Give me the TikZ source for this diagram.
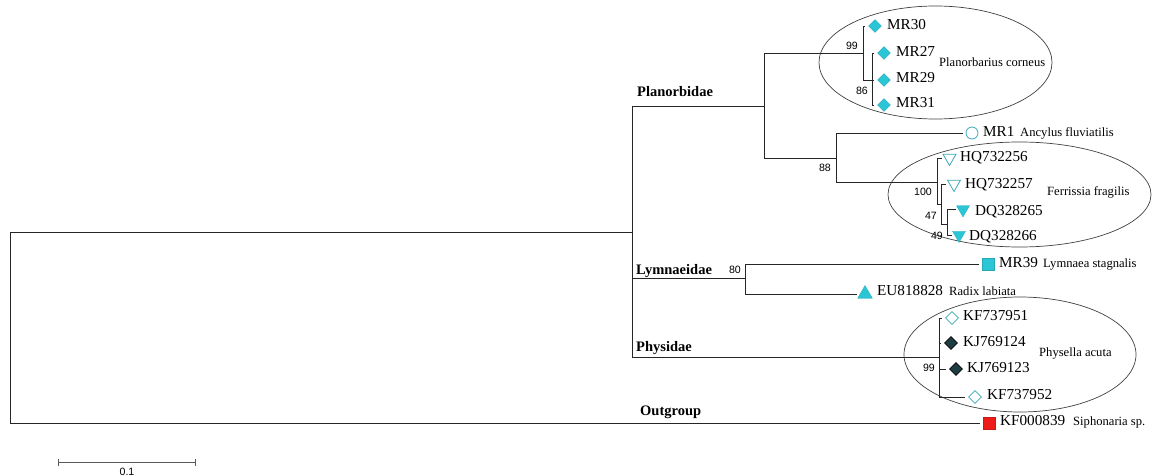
\documentclass[tikz,border=0pt]{standalone}
\usepackage{fontspec}
\setmainfont{Liberation Serif}
\newfontfamily\bootfont{Liberation Sans}
\usetikzlibrary{shapes.geometric}
\definecolor{cyanF}{HTML}{2BC6D6}
\definecolor{tealO}{HTML}{3AA9B6}
\definecolor{darkD}{HTML}{1E3D42}
\definecolor{redS}{HTML}{EE1B1B}
\begin{document}
\begin{tikzpicture}[x=1pt,y=-1pt,
  br/.style={draw=black!85, line width=0.9pt},
  tipbr/.style={br, shorten >=3pt},
  tl/.style={anchor=west, inner sep=0pt, font=\fontsize{15.2}{16}\selectfont, text height=0.66em, text depth=0pt},
  spl/.style={anchor=west, inner sep=0pt, font=\fontsize{12.6}{13}\selectfont, text height=0.66em, text depth=0pt},
  bs/.style={anchor=east, inner sep=0pt, font=\bootfont\fontsize{10.6}{11}\selectfont, text height=0.72em, text depth=0pt},
  fam/.style={anchor=west, inner sep=0pt, font=\bfseries\fontsize{14.5}{15}\selectfont, text height=0.66em, text depth=0pt},
  dbase/.style={diamond, aspect=1, inner sep=0pt, minimum width=13pt, minimum height=13pt},
  dia/.style={dbase, fill=cyanF, draw=cyanF!85!black, line width=0.3pt},
  odia/.style={dbase, fill=white, draw=tealO, line width=0.8pt},
  ddia/.style={dbase, fill=darkD, draw=black, line width=0.6pt},
  tbase/.style={regular polygon, regular polygon sides=3, inner sep=0pt},
  otri/.style={tbase, shape border rotate=180, minimum size=15pt, draw=tealO, line width=0.8pt},
  ftri/.style={tbase, shape border rotate=180, minimum size=15pt, fill=cyanF, draw=cyanF!85!black, line width=0.3pt},
  utri/.style={tbase, minimum size=17pt, fill=cyanF, draw=cyanF!85!black, line width=0.3pt},
  ocirc/.style={circle, minimum size=12pt, inner sep=0pt, draw=tealO, line width=0.8pt},
  sqb/.style={rectangle, minimum size=12pt, inner sep=0pt},
  csq/.style={sqb, fill=cyanF, draw=cyanF!85!black, line width=0.3pt},
  rsq/.style={sqb, fill=redS, draw=redS!85!black, line width=0.3pt},
  grp/.style={ellipse, draw=black!75, line width=0.7pt, inner sep=0pt},
  sbar/.style={draw=black!65, line width=1pt}
]
\useasboundingbox (0,0) rectangle (1152,476);

% group ellipses
\node[grp, minimum width=233pt, minimum height=113pt] (e1) at (935.5,62.5) {};
\node[grp, minimum width=263pt, minimum height=105pt] (e2) at (1019.5,194.5) {};
\node[grp, minimum width=232pt, minimum height=115pt] (e3) at (1020,354.5) {};

% internal nodes
\coordinate (root) at (10,327.5);
\coordinate (ing) at (632,232);
\coordinate (plan) at (764,106);
\coordinate (pc) at (863,53.5);
\coordinate (pc2) at (872,80);
\coordinate (af) at (836,158);
\coordinate (ff) at (937,182);
\coordinate (ff2) at (941,204.5);
\coordinate (ff3) at (947,224);
\coordinate (lym) at (745,278);
\coordinate (phy) at (939,357.5);

% tip markers
\node[dia] (mr30) at (875,26) {};
\node[dia] (mr27) at (884,53) {};
\node[dia] (mr29) at (884,80) {};
\node[dia] (mr31) at (884,105) {};
\node[ocirc] (mr1) at (972,133) {};
\node[otri] (hq56) at (949.5,158) {};
\node[otri] (hq57) at (954,184) {};
\node[ftri] (dq65) at (963,209.5) {};
\node[ftri] (dq66) at (959,235) {};
\node[csq] (mr39) at (988,264) {};
\node[utri] (eu) at (865,294) {};
\node[odia] (kf51) at (952,318) {};
\node[ddia] (kj24) at (951,343) {};
\node[ddia] (kj23) at (956,369) {};
\node[odia] (kf52) at (975,397) {};
\node[rsq] (og) at (989,423) {};

% branches
\draw[br] (root) |- (ing);
\draw[tipbr] (root) |- (og.west);
\draw[br] (ing) |- (plan);
\draw[br] (ing) |- (lym);
\draw[br] (ing) |- (phy);
\draw[br] (plan) |- (pc);
\draw[br] (plan) |- (af);
\draw[tipbr] (pc) |- (mr30.west);
\draw[br] (pc) |- (pc2);
\draw[tipbr] (pc2) |- (mr27.west);
\draw[tipbr] (pc2) |- (mr29.west);
\draw[tipbr] (pc2) |- (mr31.west);
\draw[tipbr] (af) |- (mr1.west);
\draw[br] (af) |- (ff);
\draw[tipbr] (ff) |- (hq56.west);
\draw[br] (ff) |- (ff2);
\draw[tipbr] (ff2) |- (hq57.west);
\draw[br] (ff2) |- (ff3);
\draw[tipbr] (ff3) |- (dq65.west);
\draw[tipbr] (ff3) |- (dq66.west);
\draw[tipbr] (lym) |- (mr39.west);
\draw[tipbr] (lym) |- (eu.west);
\draw[tipbr] (phy) |- (kf51.west);
\draw[tipbr] (phy) |- (kj24.west);
\draw[tipbr] (phy) |- (kj23.west);
\draw[tipbr] (phy) |- (kf52.west);

% tip labels
\node[tl] (tmr30) at (887,26) {MR30};
\node[tl] (tmr27) at (896,53) {MR27};
\node[tl] (tmr29) at (896,79) {MR29};
\node[tl] (tmr31) at (896,104) {MR31};
\node[tl] (tmr1) at (983,133) {MR1};
\node[tl] (thq56) at (960,158) {HQ732256};
\node[tl] (thq57) at (965,185) {HQ732257};
\node[tl] (tdq65) at (975,212) {DQ328265};
\node[tl] (tdq66) at (969,237) {DQ328266};
\node[tl] (tmr39) at (999,264) {MR39};
\node[tl] (teu) at (877,292) {EU818828};
\node[tl] (tkf51) at (963,317) {KF737951};
\node[tl] (tkj24) at (963,343) {KJ769124};
\node[tl] (tkj23) at (967,369) {KJ769123};
\node[tl] (tkf52) at (987,396) {KF737952};
\node[tl] (tog) at (1000,422) {KF000839};

% species labels
\node[spl] (s1) at (939,63) {Planorbarius corneus};
\node[spl] (s2) at (1020,133) {Ancylus fluviatilis};
\node[spl] (s3) at (1047,192) {Ferrissia fragilis};
\node[spl] (s4) at (1043,264) {Lymnaea stagnalis};
\node[spl] (s5) at (949,292) {Radix labiata};
\node[spl] (s6) at (1039,353) {Physella acuta};
\node[spl] (s7) at (1073,422) {Siphonaria sp.};

% bootstrap values
\node[bs] (b99a) at (858,46) {99};
\node[bs] (b86) at (868,91) {86};
\node[bs] (b88) at (831,168) {88};
\node[bs] (b100) at (932,192) {100};
\node[bs] (b47) at (937,216) {47};
\node[bs] (b49) at (943,236) {49};
\node[bs] (b80) at (741,270) {80};
\node[bs] (b99b) at (935,368) {99};

% family labels
\node[fam] (fplan) at (637,93) {Planorbidae};
\node[fam] (flym) at (636,271) {Lymnaeidae};
\node[fam] (fphy) at (636,348) {Physidae};
\node[fam] (fout) at (640,412) {Outgroup};

% scale bar
\coordinate (sb1) at (58,462);
\coordinate (sb2) at (195,462);
\draw[sbar] (sb1) -- (sb2);
\draw[sbar] ([yshift=-3.5pt]sb1) -- ([yshift=3.5pt]sb1);
\draw[sbar] ([yshift=-3.5pt]sb2) -- ([yshift=3.5pt]sb2);
\node[bs, anchor=center] (sbl) at (127,472) {0.1};
\end{tikzpicture}
\end{document}
